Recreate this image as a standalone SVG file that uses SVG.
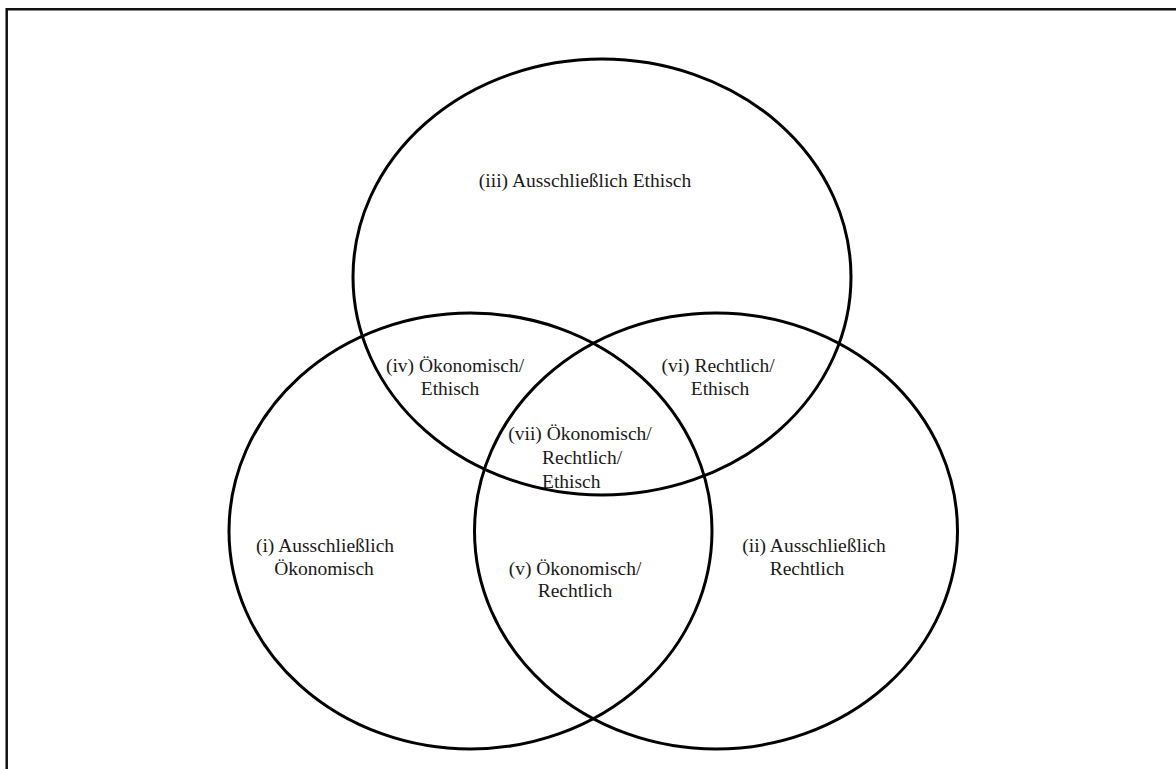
<svg xmlns="http://www.w3.org/2000/svg" width="1176" height="769" viewBox="0 0 1176 769">
<style>
.set{fill:none;stroke:#000;stroke-width:3}
.frame{fill:none;stroke:#111;stroke-width:2.5}
text{font-family:"Liberation Serif","Times New Roman",serif;font-size:19.5px;fill:#1a1a1a}
.m{text-anchor:middle}
</style>
<rect width="1176" height="769" fill="#fff"/>
<path class="frame" d="M6.7,769 V9.3 H1176"/>
<g id="set-ethisch"><ellipse class="set" cx="602" cy="277" rx="249" ry="218"/></g>
<g id="set-oekonomisch"><ellipse class="set" cx="470.5" cy="531" rx="241.5" ry="218"/></g>
<g id="set-rechtlich"><ellipse class="set" cx="716" cy="531" rx="241.5" ry="218"/></g>
<g id="connectors"></g>
<g id="label-iii"><text class="m" x="585" y="187">(iii) Ausschließlich Ethisch</text></g>
<g id="label-iv"><text class="m" x="455" y="372">(iv) Ökonomisch/</text><text class="m" x="450" y="395">Ethisch</text></g>
<g id="label-vi"><text class="m" x="718" y="372">(vi) Rechtlich/</text><text class="m" x="720" y="395">Ethisch</text></g>
<g id="label-vii"><text class="m" x="580" y="440">(vii) Ökonomisch/</text><text x="542" y="464">Rechtlich/</text><text x="542" y="488">Ethisch</text></g>
<g id="label-i"><text class="m" x="325" y="552">(i) Ausschließlich</text><text class="m" x="324" y="575">Ökonomisch</text></g>
<g id="label-v"><text class="m" x="575" y="575">(v) Ökonomisch/</text><text class="m" x="575" y="597">Rechtlich</text></g>
<g id="label-ii"><text class="m" x="814" y="552">(ii) Ausschließlich</text><text class="m" x="807" y="575">Rechtlich</text></g>
</svg>
